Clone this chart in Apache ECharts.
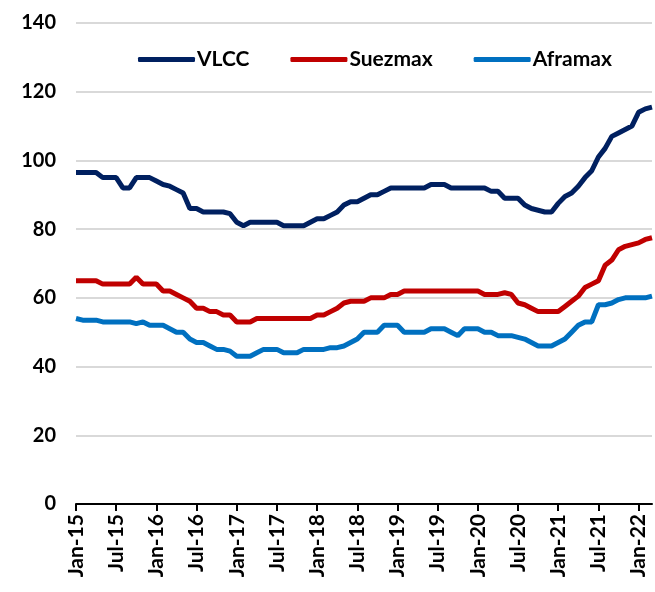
<!DOCTYPE html>
<html>
<head>
<meta charset="utf-8">
<script src="https://cdn.jsdelivr.net/npm/echarts@6/dist/echarts.min.js"></script>
<style>
  html, body { margin: 0; padding: 0; background: #fff; }
  #chart { width: 655px; height: 592px; }
</style>
</head>
<body>
<div id="chart"></div>
<script>
var monthNames = ['Jan','Feb','Mar','Apr','May','Jun','Jul','Aug','Sep','Oct','Nov','Dec'];
var months = [];
for (var i = 0; i < 87; i++) {
    var y = 15 + Math.floor(i / 12);
    months.push(monthNames[i % 12] + '-' + y);
}

var vlcc = [
    96.5, 96.5, 96.5, 96.5, 95, 95, 95, 92, 92, 95, 95, 95,
    94, 93, 92.5, 91.5, 90.5, 86, 86, 85, 85, 85, 85, 84.5,
    82, 81, 82, 82, 82, 82, 82, 81, 81, 81, 81, 82,
    83, 83, 84, 85, 87, 88, 88, 89, 90, 90, 91, 92,
    92, 92, 92, 92, 92, 93, 93, 93, 92, 92, 92, 92,
    92, 92, 91, 91, 89, 89, 89, 87, 86, 85.5, 85, 85,
    87.5, 89.5, 90.5, 92.5, 95, 97, 101, 103.5, 107, 108, 109, 110,
    114, 115, 115.5
];
var suezmax = [
    65, 65, 65, 65, 64, 64, 64, 64, 64, 66, 64, 64,
    64, 62, 62, 61, 60, 59, 57, 57, 56, 56, 55, 55,
    53, 53, 53, 54, 54, 54, 54, 54, 54, 54, 54, 54,
    55, 55, 56, 57, 58.5, 59, 59, 59, 60, 60, 60, 61,
    61, 62, 62, 62, 62, 62, 62, 62, 62, 62, 62, 62,
    62, 61, 61, 61, 61.5, 61, 58.5, 58, 57, 56, 56, 56,
    56, 57.5, 59, 60.5, 63, 64, 65, 69.5, 71, 74, 75, 75.5,
    76, 77, 77.5
];
var aframax = [
    54, 53.5, 53.5, 53.5, 53, 53, 53, 53, 53, 52.5, 53, 52,
    52, 52, 51, 50, 50, 48, 47, 47, 46, 45, 45, 44.5,
    43, 43, 43, 44, 45, 45, 45, 44, 44, 44, 45, 45,
    45, 45, 45.5, 45.5, 46, 47, 48, 50, 50, 50, 52, 52,
    52, 50, 50, 50, 50, 51, 51, 51, 50, 49, 51, 51,
    51, 50, 50, 49, 49, 49, 48.5, 48, 47, 46, 46, 46,
    47, 48, 50, 52, 53, 53, 58, 58, 58.5, 59.5, 60, 60,
    60, 60, 60.5
];
var yTicks = { min: 0, max: 140, interval: 20 };

var seriesNames = ['VLCC', 'Suezmax', 'Aframax'];
var seriesColors = ['#002060', '#C00000', '#0070C0'];
var seriesData = [vlcc, suezmax, aframax];

var myChart = echarts.init(document.getElementById('chart'));

var series = seriesNames.map(function (name, k) {
    return {
        name: name,
        type: 'line',
        data: seriesData[k],
        showSymbol: false,
        symbol: 'none',
        lineStyle: { color: seriesColors[k], width: 5 },
        itemStyle: { color: seriesColors[k] }
    };
});

var option = {
    animation: false,
    textStyle: { fontFamily: 'Lato' },
    grid: {
        left: 76,
        right: 3,
        top: 23,
        bottom: 88,
        containLabel: false
    },
    legend: {
        data: seriesNames,
        top: 44,
        left: 133,
        itemWidth: 57,
        itemHeight: 5,
        itemGap: 41,
        icon: 'roundRect',
        textStyle: {
            fontFamily: 'Lato',
            fontWeight: 'bold',
            fontSize: 21,
            color: '#000',
            padding: [0, 0, 0, -3]
        }
    },
    xAxis: {
        type: 'category',
        data: months,
        boundaryGap: false,
        axisLine: { lineStyle: { color: '#000', width: 2 } },
        axisTick: {
            show: true,
            interval: 5,
            length: 7,
            lineStyle: { color: '#000', width: 2 }
        },
        axisLabel: {
            interval: 5,
            rotate: 90,
            margin: 10,
            color: '#000',
            fontFamily: 'Lato',
            fontWeight: 'bold',
            fontSize: 21
        },
        splitLine: { show: false }
    },
    yAxis: {
        type: 'value',
        min: yTicks.min,
        max: yTicks.max,
        interval: yTicks.interval,
        axisLine: { show: false },
        axisTick: { show: false },
        axisLabel: {
            margin: 20,
            color: '#000',
            fontFamily: 'Lato',
            fontWeight: 'bold',
            fontSize: 20
        },
        splitLine: { lineStyle: { color: '#D9D9D9', width: 2 } }
    },
    series: series
};

myChart.setOption(option);
</script>
</body>
</html>
